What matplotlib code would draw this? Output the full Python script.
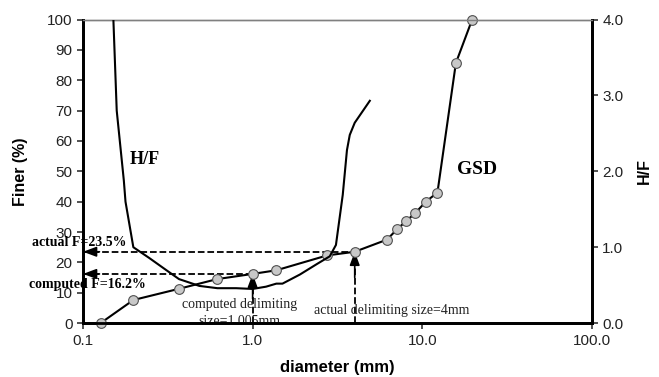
import matplotlib
matplotlib.use('Agg')
import matplotlib.pyplot as plt

# grain size distribution (GSD), % finer
gsd_d = [0.127, 0.198, 0.368, 0.618, 1.0, 1.38, 2.75, 4.0, 6.2, 7.1, 8.07, 9.08, 10.5, 12.3, 15.8, 19.7]
gsd_f = [0.0, 7.6, 11.3, 14.5, 16.2, 17.4, 22.3, 23.5, 27.5, 30.9, 33.7, 36.2, 40.0, 43.0, 85.7, 100.0]

# H/F curve (right axis)
hf_d = [0.151, 0.158, 0.174, 0.178, 0.198, 0.245, 0.300, 0.368, 0.485, 0.62, 0.80, 1.0, 1.2, 1.38,
        1.5, 1.9, 2.4, 2.85, 3.1, 3.4, 3.6, 3.74, 4.0, 4.91]
hf_v = [4.0, 2.8, 1.88, 1.6, 1.0, 0.86, 0.72, 0.58, 0.49, 0.46, 0.46, 0.45, 0.48, 0.52,
        0.52, 0.64, 0.78, 0.88, 1.03, 1.69, 2.28, 2.48, 2.64, 2.93]

actual_f = 23.5
computed_f = 16.2
actual_size = 4.0
computed_size = 1.0

x_ticks = [0.1, 1.0, 10.0, 100.0]
x_labels = ['0.1', '1.0', '10.0', '100.0']

fig = plt.figure(figsize=(6.59, 3.77), dpi=100)
ax = fig.add_axes([0.126, 0.143, 0.772, 0.805])
ax2 = ax.twinx()

ax.set_xscale('log')
ax.set_xlim(0.1, 100)
ax.set_ylim(0, 100)
ax2.set_ylim(0, 4)

ax.plot(gsd_d, gsd_f, color='black', lw=1.5, marker='o', ms=7,
        mfc='#c8c8c8', mec='#505050', mew=0.8, zorder=5, clip_on=False)
ax2.plot(hf_d, hf_v, color='black', lw=1.5, zorder=4)

# dashed guide lines
ax.plot([0.1, actual_size], [actual_f, actual_f], color='black', ls='--', lw=1.3)
ax.plot([0.1, computed_size], [computed_f, computed_f], color='black', ls='--', lw=1.3)
ax.plot([actual_size, actual_size], [0, actual_f], color='black', ls='--', lw=1.3)
ax.plot([computed_size, computed_size], [0, computed_f], color='black', ls='--', lw=1.3)

ap = dict(arrowstyle='-|>,head_length=0.8,head_width=0.3', color='black', lw=1.2,
          shrinkA=0, shrinkB=0)
ax.annotate('', xy=(0.1, actual_f), xytext=(0.125, actual_f), arrowprops=ap)
ax.annotate('', xy=(0.1, computed_f), xytext=(0.125, computed_f), arrowprops=ap)
ax.annotate('', xy=(actual_size, actual_f), xytext=(actual_size, 15), arrowprops=ap)
ax.annotate('', xy=(computed_size, computed_f), xytext=(computed_size, 8), arrowprops=ap)

serif = 'Liberation Serif'
ax.text(0.050, 26.4, 'actual F=23.5%', fontfamily=serif, fontweight='bold', fontsize=10,
        ha='left', va='center', clip_on=False)
ax.text(0.048, 12.8, 'computed F=16.2%', fontfamily=serif, fontweight='bold', fontsize=10,
        ha='left', va='center', clip_on=False)
ax.text(0.84, 6.0, 'computed delimiting', fontfamily=serif, fontsize=10, color='#222222',
        ha='center', va='center')
ax.text(0.84, 0.5, 'size=1.005mm', fontfamily=serif, fontsize=10, color='#222222',
        ha='center', va='center')
ax.text(6.6, 4.3, 'actual delimiting size=4mm', fontfamily=serif, fontsize=10, color='#222222',
        ha='center', va='center')
ax.text(0.189, 54, 'H/F', fontfamily=serif, fontweight='bold', fontsize=13, ha='left', va='center')
ax.text(16.0, 50.5, 'GSD', fontfamily=serif, fontweight='bold', fontsize=14, ha='left', va='center')

ax.set_xticks(x_ticks)
ax.set_xticklabels(x_labels)
ax.xaxis.set_minor_locator(matplotlib.ticker.NullLocator())
ax.set_yticks(range(0, 101, 10))
ax2.set_yticks([0, 1, 2, 3, 4])
ax2.set_yticklabels(['0.0', '1.0', '2.0', '3.0', '4.0'])

sans = 'Liberation Sans'
for a in (ax, ax2):
    for lab in a.get_xticklabels() + a.get_yticklabels():
        lab.set_fontfamily(sans)
        lab.set_fontsize(11)
        lab.set_color('#222222')
    a.tick_params(width=1.2, length=4, color='#333333')
    for s in ('left', 'bottom', 'right'):
        a.spines[s].set_linewidth(2)
        a.spines[s].set_color('black')
    a.spines['top'].set_color('#808080')
    a.spines['top'].set_linewidth(1)

ax.set_xlabel('diameter (mm)', fontfamily=sans, fontweight='bold', fontsize=12, labelpad=9)
ax.set_ylabel('Finer (%)', fontfamily=sans, fontweight='bold', fontsize=11.5, labelpad=14)
ax2.set_ylabel('H/F', fontfamily=sans, fontweight='bold', fontsize=11.5, labelpad=10)

fig.savefig('out.png', dpi=100)
